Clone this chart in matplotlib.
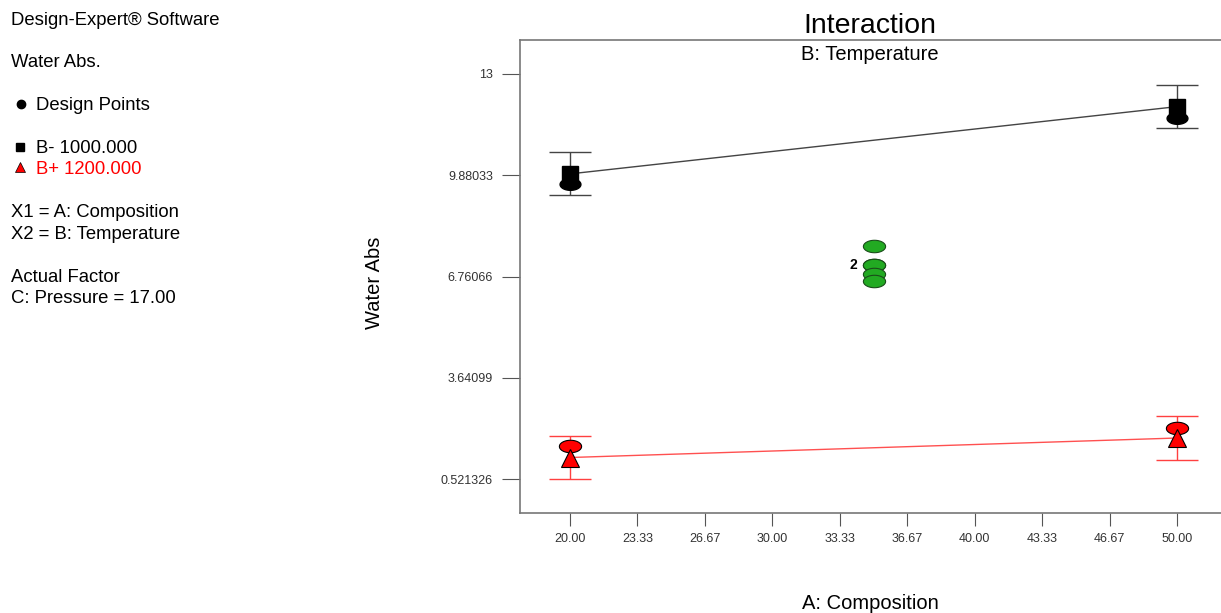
import numpy as np
import matplotlib.pyplot as plt
from matplotlib.path import Path

plt.rcParams['font.family'] = ['Liberation Sans', 'DejaVu Sans']

# factor A levels and fitted means per temperature level
comp_levels = [20.0, 50.0]
fit_low = [9.92, 11.99]      # B- 1000
fit_high = [1.19, 1.79]      # B+ 1200
ci_low = [0.66, 0.66]
ci_high = [0.67, 0.67]

# design points
pts_low = [9.61, 11.65]
pts_high = [1.54, 2.11]
center_x = 35.0
center_pts = [7.69, 7.12, 7.12, 6.84, 6.63]

xticks = [20.00, 23.33, 26.67, 30.00, 33.33, 36.67, 40.00, 43.33, 46.67, 50.00]
yticks = [0.521326, 3.64099, 6.76066, 9.88033, 13.0]
ytick_labels = ['0.521326', '3.64099', '6.76066', '9.88033', '13']

# flat oval marker used for design points
t = np.linspace(0, 2 * np.pi, 60)
oval = Path(np.column_stack([np.cos(t), 0.56 * np.sin(t)]), closed=True)

fig = plt.figure(figsize=(12.21, 6.13), dpi=100)
ax = fig.add_axes([0.4259, 0.1631, 0.579, 0.7716])

step = yticks[1] - yticks[0]
ax.set_xlim(17.53, 52.47)
ax.set_ylim(yticks[0] - step / 3, yticks[-1] + step / 3)

# B- line (black)
ax.plot(comp_levels, fit_low, color='#444444', lw=1, zorder=2)
ax.errorbar(comp_levels, fit_low, yerr=ci_low, fmt='none', ecolor='#444444',
            elinewidth=1, capsize=15, capthick=1, zorder=2)
ax.plot(comp_levels, fit_low, 's', color='black', ms=11, zorder=4)
ax.plot(comp_levels, pts_low, marker=oval, ls='none', color='black', ms=15, zorder=3)

# B+ line (red)
ax.plot(comp_levels, fit_high, color='#ff5050', lw=1, zorder=2)
ax.errorbar(comp_levels, fit_high, yerr=ci_high, fmt='none', ecolor='#ff4040',
            elinewidth=1, capsize=15, capthick=1, zorder=2)
ax.plot(comp_levels, pts_high, marker=oval, ls='none', mfc='red', mec='black',
        mew=0.8, ms=16, zorder=3)
ax.plot(comp_levels, fit_high, '^', mfc='red', mec='black', mew=0.8, ms=13, zorder=4)

# center points
ax.plot([center_x] * len(center_pts), center_pts, marker=oval, ls='none',
        mfc='#22aa22', mec='#1a4d1a', mew=0.8, ms=16, zorder=3)
ax.annotate('2', (center_x, center_pts[1]), xytext=(-12, 0), textcoords='offset points',
            ha='right', va='center', fontsize=10, fontweight='bold')

ax.set_xticks(xticks)
ax.set_xticklabels([f'{v:.2f}' for v in xticks])
ax.set_yticks(yticks)
ax.set_yticklabels(ytick_labels)
ax.tick_params(axis='x', length=9.4, color='#555555', labelsize=9,
               labelcolor='#333333', pad=5)
ax.tick_params(axis='y', length=13, color='#555555', labelsize=9,
               labelcolor='#333333', pad=6.5)
for s in ax.spines.values():
    s.set_color('#777777')
    s.set_linewidth(1.2)

fig.text(0.7125, 0.958, 'Interaction', ha='center', va='center', fontsize=20.5)
fig.text(0.7125, 0.911, 'B: Temperature', ha='center', va='center', fontsize=14.5)
fig.text(0.7125, 0.016, 'A: Composition', ha='center', va='center', fontsize=14.5)
fig.text(0.307, 0.614, 'Water Abs', rotation=90, ha='center', va='top', fontsize=14.5)

# left-hand info panel
info = [
    (0.967, 'Design-Expert® Software', 'black'),
    (0.898, 'Water Abs.', 'black'),
    (0.828, 'Design Points', 'black'),
    (0.758, 'B- 1000.000', 'black'),
    (0.723, 'B+ 1200.000', 'red'),
    (0.653, 'X1 = A: Composition', 'black'),
    (0.618, 'X2 = B: Temperature', 'black'),
    (0.548, 'Actual Factor', 'black'),
    (0.513, 'C: Pressure = 17.00', 'black'),
]
for y, s, c in info:
    x = 0.0295 if s in ('Design Points', 'B- 1000.000', 'B+ 1200.000') else 0.009
    fig.text(x, y, s, ha='left', va='center', fontsize=13.3, color=c)

fig.add_artist(plt.Line2D([0.0175], [0.831], marker='o', color='black', ms=6,
                          transform=fig.transFigure))
fig.add_artist(plt.Line2D([0.0165], [0.761], marker='s', color='black', ms=6,
                          transform=fig.transFigure))
fig.add_artist(plt.Line2D([0.0165], [0.727], marker='^', mfc='red', mec='black', mew=0.5,
                          ms=7, transform=fig.transFigure))

fig.savefig('out.png', dpi=100)
